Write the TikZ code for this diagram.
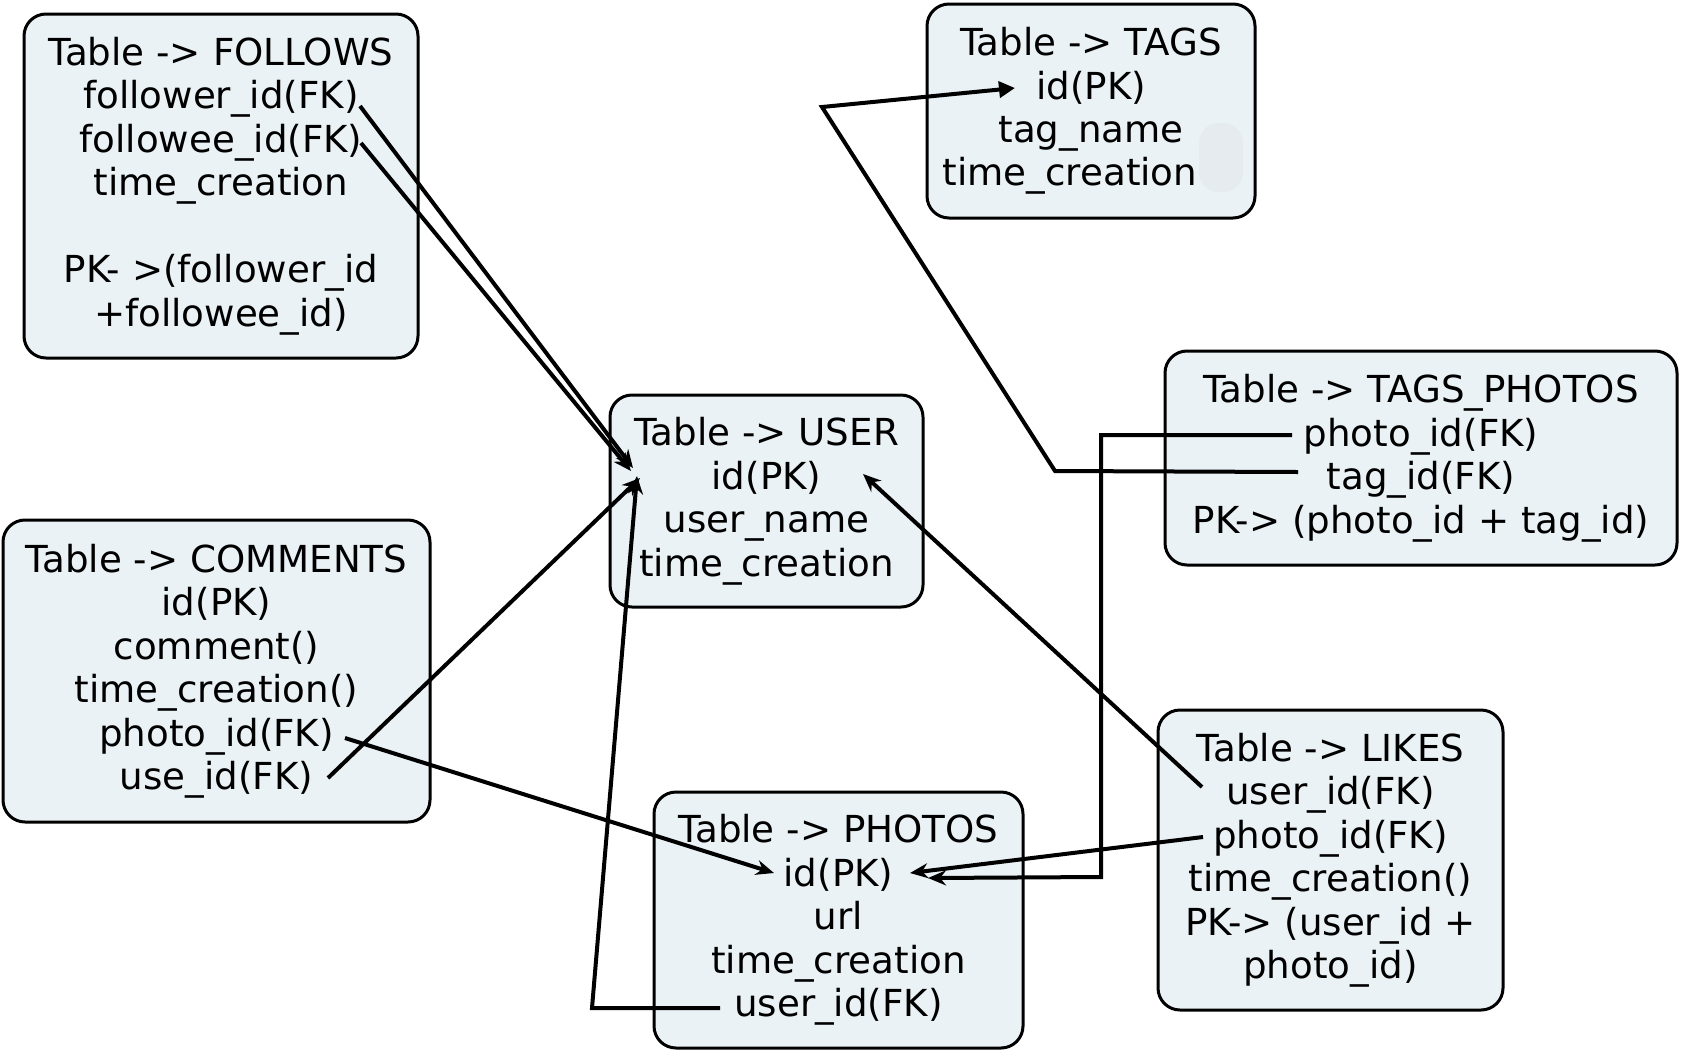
\documentclass[tikz,border=0pt]{standalone}
\usepackage{fontspec}
\setmainfont{DejaVu Sans}
\usetikzlibrary{arrows.meta}
\definecolor{tablefill}{RGB}{234,242,245}
\definecolor{ghostfill}{RGB}{229,235,238}

\begin{document}
\begin{tikzpicture}[x=0.5pt,y=-0.5pt,
  tablebox/.style={draw,line width=1.5pt,rounded corners=11pt,fill=tablefill,align=center,
    inner sep=0pt,font=\fontsize{18.6}{21.75}\selectfont},
  fklink/.style={line width=2pt,-{Stealth[length=9pt,width=7.5pt]}},
  taglink/.style={line width=2pt,-{Triangle[length=8pt,width=8pt]}}]
  \useasboundingbox (0,0) rectangle (1685,1055);
  % tables
  \node[tablebox,minimum width=197pt,minimum height=172pt] (follows) at (221,186)
    {Table -> FOLLOWS\\follower\_id(FK)\\followee\_id(FK)\\time\_creation\\[21.75pt]PK- >(follower\_id\\+followee\_id)};
  \node[tablebox,minimum width=213.5pt,minimum height=151pt] (comments) at (216.5,671)
    {Table -> COMMENTS\\id(PK)\\comment()\\time\_creation()\\photo\_id(FK)\\use\_id(FK)};
  \node[tablebox,minimum width=156.5pt,minimum height=106pt] (user) at (766.5,501)
    {Table -> USER\\id(PK)\\user\_name\\time\_creation};
  \node[tablebox,minimum width=164pt,minimum height=107pt] (tags) at (1091,111)
    {Table -> TAGS\\id(PK)\\tag\_name\\time\_creation\hspace*{21pt}};
  \fill[ghostfill,rounded corners=10pt] (1199,123) rectangle (1243,192);
  \node[tablebox,minimum width=256pt,minimum height=107pt] (tagsphotos) at (1421,458)
    {Table -> TAGS\_PHOTOS\\photo\_id(FK)\\tag\_id(FK)\\PK-> (photo\_id + tag\_id)};
  \node[tablebox,minimum width=172.5pt,minimum height=150pt] (likes) at (1330.5,860)
    {Table -> LIKES\\user\_id(FK)\\photo\_id(FK)\\time\_creation()\\PK-> (user\_id +\\photo\_id)};
  \node[tablebox,minimum width=184.5pt,minimum height=128pt] (photos) at (838.5,920)
    {Table -> PHOTOS\\id(PK)\\url\\time\_creation\\user\_id(FK)};
  % key ends
  \coordinate (followerfk) at (360,106);
  \coordinate (followeefk) at (361,143);
  \coordinate (userpk1) at (633,468);
  \coordinate (userpk2) at (631,471);
  \coordinate (userpk3) at (640,478);
  \coordinate (userpk4) at (637,476);
  \coordinate (userpk5) at (863,474);
  \coordinate (commentphotofk) at (345,738);
  \coordinate (commentuserfk) at (328,778);
  \coordinate (photopk1) at (774,873);
  \coordinate (photopk2) at (910,873);
  \coordinate (photopk3) at (928,878);
  \coordinate (photouserfk) at (720,1008);
  \coordinate (photobend) at (592,1008);
  \coordinate (likeuserfk) at (1202,787);
  \coordinate (likephotofk) at (1203,837);
  \coordinate (tpphotofk) at (1292,435);
  \coordinate (tptagfk) at (1298,472);
  \coordinate (tpbendA) at (1101,435);
  \coordinate (tpbendB) at (1101,877);
  \coordinate (tpbendC) at (1055,471);
  \coordinate (tpbendD) at (822,107);
  \coordinate (tagpk) at (1015,88);
  % links
  \draw[fklink] (followerfk) -- (userpk1);
  \draw[fklink] (followeefk) -- (userpk2);
  \draw[fklink] (commentuserfk) -- (userpk3);
  \draw[fklink] (photouserfk) -- (photobend) -- (userpk4);
  \draw[fklink] (likeuserfk) -- (userpk5);
  \draw[fklink] (commentphotofk) -- (photopk1);
  \draw[fklink] (likephotofk) -- (photopk2);
  \draw[fklink] (tpphotofk) -- (tpbendA) -- (tpbendB) -- (photopk3);
  \draw[taglink] (tptagfk) -- (tpbendC) -- (tpbendD) -- (tagpk);
\end{tikzpicture}
\end{document}
